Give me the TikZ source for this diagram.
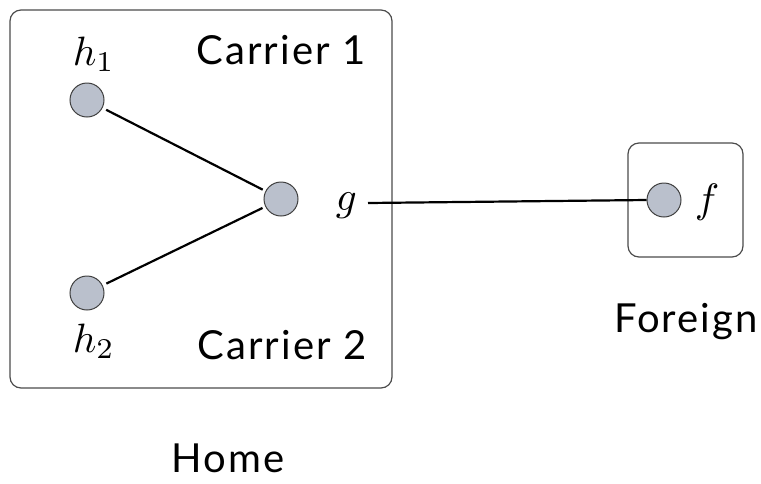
\documentclass[tikz,border=0pt]{standalone}
\usepackage{fontspec}
\setmainfont{Lato}[LetterSpace=5]
\begin{document}
\begin{tikzpicture}[x=1pt,y=-1pt,
  vert/.style={circle,draw=black!75,fill=nodefill,line width=1pt,minimum size=34pt,inner sep=0pt},
  region/.style={draw=black!70,line width=1.2pt,rounded corners=11pt},
  edge/.style={draw=black,line width=2.2pt},
  lbl/.style={font=\fontsize{40}{42}\selectfont,inner sep=0pt},
  mlbl/.style={font=\normalsize,scale=4.1,inner sep=0pt}]
\definecolor{nodefill}{RGB}{186,192,204}
\useasboundingbox (0,0) rectangle (761,483);
\draw[region] (10,10) rectangle (392,388);
\draw[region] (628,143) rectangle (743,257);
\node[vert] (h1) at (87,100) {};
\node[vert] (h2) at (87,293) {};
\node[vert] (g) at (281,199) {};
\node[vert] (f) at (664,200) {};
\node[mlbl,anchor=base west] (h1l) at (72,65) {$h_1$};
\node[mlbl,anchor=base west] (h2l) at (72,352) {$h_2$};
\node[mlbl,anchor=base west] (gl) at (335,210) {$g$};
\node[mlbl,anchor=base west] (fl) at (694,212) {$f$};
\node[lbl] (c1) at (281,50) {Carrier 1};
\node[lbl] (c2) at (282,345) {Carrier 2};
\node[lbl] (fo) at (686,322) {Foreign};
\node[lbl] (ho) at (228,458) {Home};
\draw[edge,shorten <=4pt,shorten >=3pt] (h1) -- (g);
\draw[edge,shorten <=4pt,shorten >=3pt] (h2) -- (g);
\coordinate (gs) at (368,203);
\draw[edge] (gs) -- (f.west);
\end{tikzpicture}
\end{document}
